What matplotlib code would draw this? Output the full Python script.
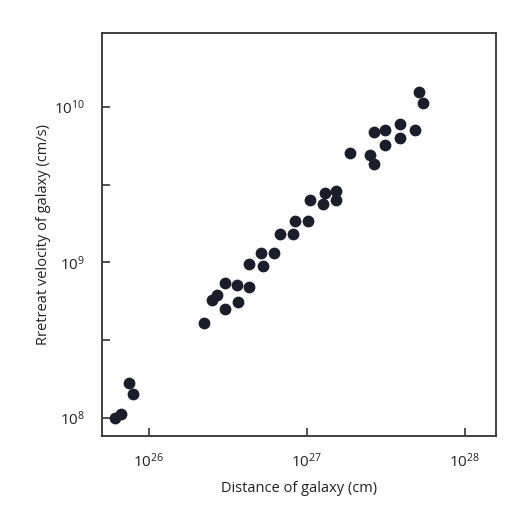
import matplotlib
matplotlib.use("Agg")
import matplotlib.pyplot as plt
import numpy as np

# log10 of distance (cm) and retreat velocity (cm/s)
log_dist = [25.787, 25.823, 25.878, 25.903, 26.350, 26.403, 26.432, 26.483, 26.483,
            26.563, 26.565, 26.635, 26.635, 26.713, 26.726, 26.791, 26.833, 26.914,
            26.930, 27.011, 27.021, 27.105, 27.118, 27.184, 27.184, 27.278, 27.401,
            27.426, 27.426, 27.496, 27.496, 27.591, 27.591, 27.684, 27.713, 27.734]
log_vel = [8.000, 8.026, 8.227, 8.158, 8.608, 8.758, 8.788, 8.867, 8.704,
           8.852, 8.743, 8.842, 8.991, 9.058, 8.976, 9.058, 9.182, 9.182,
           9.263, 9.263, 9.400, 9.373, 9.443, 9.458, 9.400, 9.700, 9.690,
           9.632, 9.835, 9.850, 9.754, 9.891, 9.797, 9.850, 10.094, 10.026]

x_ticks = [1e26, 1e27, 1e28]
x_labels = ["26", "27", "28"]
y_ticks = [1e8, 10**8.5, 1e9, 10**9.5, 1e10]
y_labels = ["8", "", "9", "", "10"]

plt.rcParams['font.family'] = ['Open Sans', 'DejaVu Sans']
plt.rcParams['mathtext.fontset'] = 'custom'
plt.rcParams['mathtext.rm'] = 'Open Sans'

dist = 10 ** np.array(log_dist)
vel = 10 ** np.array(log_vel)

fig = plt.figure(figsize=(5.32, 5.12), dpi=100)
ax = fig.add_axes([0.191, 0.148, 0.741, 0.788])
ax.scatter(dist, vel, s=72, color="#1b1d2a", linewidths=0, zorder=3)

ax.set_xscale("log")
ax.set_yscale("log")
ax.set_xlim(10**25.703, 10**28.198)
ax.set_ylim(10**7.884, 10**10.475)

ax.set_xticks(x_ticks)
ax.set_xticklabels([r"$\mathregular{10^{%s}}$" % e for e in x_labels])
ax.set_yticks(y_ticks)
ax.set_yticklabels([r"$\mathregular{10^{%s}}$" % e if e else "" for e in y_labels])
ax.minorticks_off()
ax.tick_params(direction="in", length=6, width=1.2, color="#333333",
               labelsize=11, labelcolor="#222222", pad=12)

for sp in ax.spines.values():
    sp.set_linewidth(1.3)
    sp.set_color("#333333")

ax.set_xlabel("Distance of galaxy (cm)", fontsize=10.5, color="#222222", labelpad=7)
ax.set_ylabel("Rretreat velocity of galaxy (cm/s)", fontsize=10.5, color="#222222", labelpad=2)

fig.savefig("out.png", dpi=100)
